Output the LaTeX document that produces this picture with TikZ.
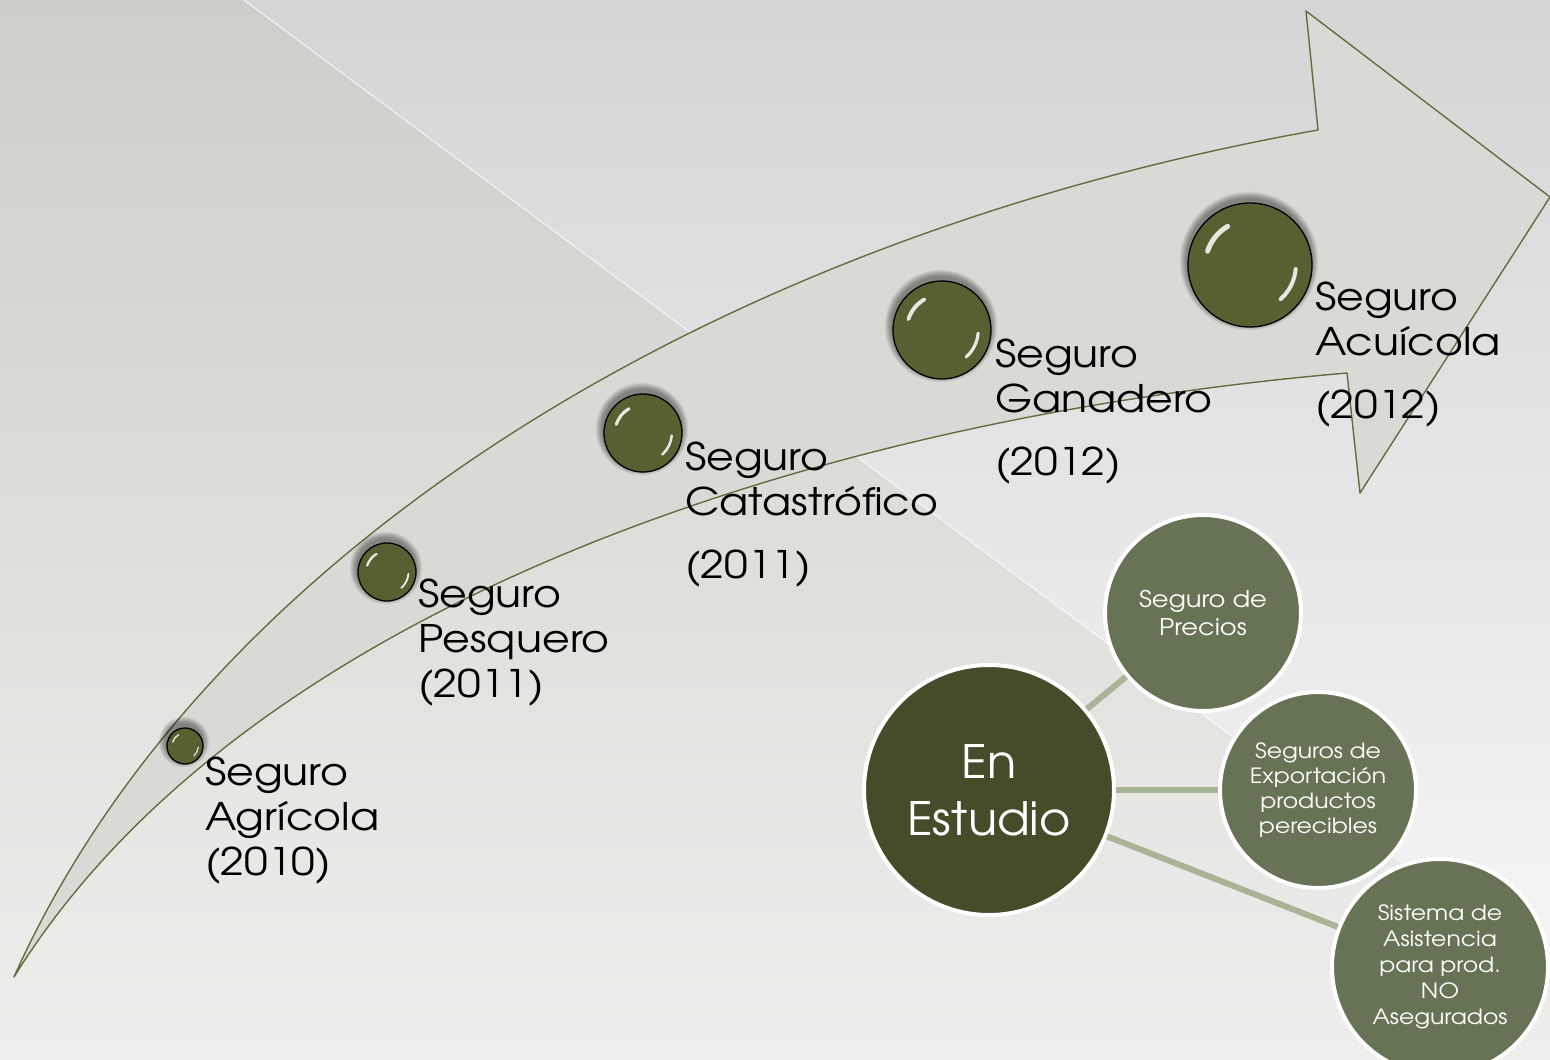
\documentclass[tikz,border=0pt]{standalone}
\usepackage{fontspec}
\setmainfont{TeX Gyre Adventor}[FakeStretch=1.12]
\newfontfamily\estfont{TeX Gyre Adventor}[FakeStretch=1.04]
\usetikzlibrary{calc}
\definecolor{bgRtop}{HTML}{D5D5D5}
\definecolor{bgRbot}{HTML}{F8F8F8}
\definecolor{bgLtop}{HTML}{CDCEC9}
\definecolor{bgLbot}{HTML}{EEEEEC}
\definecolor{arrowfill}{HTML}{D9DAD5}
\definecolor{arrowline}{HTML}{636D3E}
\definecolor{dolive}{HTML}{576030}
\definecolor{drim}{HTML}{8C9070}
\definecolor{bigdark}{HTML}{454C2A}
\definecolor{smallc}{HTML}{667354}
\definecolor{conncol}{HTML}{A8B496}
\pgfdeclareradialshading{dotsh}{\pgfpoint{0bp}{0bp}}{color(0bp)=(dolive); color(39bp)=(dolive); color(47bp)=(drim); color(50bp)=(drim)}
\tikzset{
  arrowst/.style={fill=arrowfill, draw=arrowline, line width=1.4pt, line join=round},
  gdotnode/.style={circle, shading=dotsh, draw=black, line width=1.3pt, inner sep=0pt},
  hilite/.style={draw=white, opacity=0.85, line cap=round},
  lab/.style={anchor=base west, inner sep=0pt, text=black, font=\fontsize{38}{45}\selectfont},
  bigc/.style={circle, fill=bigdark, draw=white, line width=4pt, text=white, align=center, inner sep=0pt},
  smc/.style={circle, fill=smallc, draw=white, line width=4pt, text=white, align=center, inner sep=0pt},
  conn/.style={draw=conncol, line width=6pt}
}
\newcommand\gdot[4]{%
  \foreach \k in {1,...,8}{\fill[black,opacity=0.06] (#2-1,#3-4) circle[radius={#4pt+\k*0.9pt}];}
  \node[gdotnode, minimum size={2*#4pt}] (#1) at (#2,#3) {};
  \draw[hilite, line width={0.08*#4pt}] ($(#1.center)+(162:{0.72*#4pt})$) arc[start angle=162, end angle=120, radius={0.72*#4pt}];
  \draw[hilite, line width={0.065*#4pt}] ($(#1.center)+(-5:{0.74*#4pt})$) arc[start angle=-5, end angle=-48, radius={0.74*#4pt}];
}
\begin{document}
\begin{tikzpicture}[x=1pt, y=-1pt]
\useasboundingbox (0,0) rectangle (1550,1060);
% background
\shade[top color=bgRtop, bottom color=bgRbot] (0,0) rectangle (1550,1060);
\shade[top color=bgLtop, bottom color=bgLbot] (0,0) -- (244,0) -- (1550,973) -- (1550,1060) -- (0,1060) -- cycle;
\draw[white, opacity=0.7, line width=1.2pt] (244,0) -- (1550,973);
% curved arrow
\draw[arrowst] (14,977) .. controls (200,560) and (700,240) .. (1318,130) -- (1306,11) -- (1550,197) -- (1360,493) -- (1347,373) .. controls (800,420) and (240,612) .. (14,977) -- cycle;
% dots
\gdot{d1}{185}{746}{18}
\gdot{d2}{387}{572}{29}
\gdot{d3}{643}{433}{39}
\gdot{d4}{942}{330}{49}
\gdot{d5}{1250}{265}{62}
% labels
\node[lab] (l1) at (205,785) {\begin{tabular}[t]{@{}l@{}}Seguro\\Agrícola\\(2010)\end{tabular}};
\node[lab] (l2) at (418,607) {\begin{tabular}[t]{@{}l@{}}Seguro\\Pesquero\\(2011)\end{tabular}};
\node[lab] (l3) at (685,470) {\begin{tabular}[t]{@{}l@{}}Seguro\\Catastrófico\\[18pt](2011)\end{tabular}};
\node[lab] (l4) at (995,367) {\begin{tabular}[t]{@{}l@{}}Seguro\\Ganadero\\[18pt](2012)\end{tabular}};
\node[lab] (l5) at (1315,310) {\begin{tabular}[t]{@{}l@{}}Seguro\\Acuícola\\[18pt](2012)\end{tabular}};
% right cluster
\node[bigc, minimum size=250pt, font=\estfont\fontsize{46}{57}\selectfont] (est) at (989,790) {En\\Estudio};
\node[smc, minimum size=196pt, font=\fontsize{23}{28}\selectfont] (pre) at (1203,613) {Seguro de\\Precios};
\node[smc, minimum size=196pt, font=\fontsize{21}{25}\selectfont] (exp) at (1318,790) {Seguros de\\Exportación\\productos\\perecibles};
\node[smc, minimum size=216pt, font=\fontsize{21}{26}\selectfont] (sis) at (1440,967) {Sistema de\\Asistencia\\para prod.\\NO\\Asegurados};
\draw[conn] (est) -- (pre);
\draw[conn] (est) -- (exp);
\draw[conn] (est) -- (sis);
\end{tikzpicture}
\end{document}
